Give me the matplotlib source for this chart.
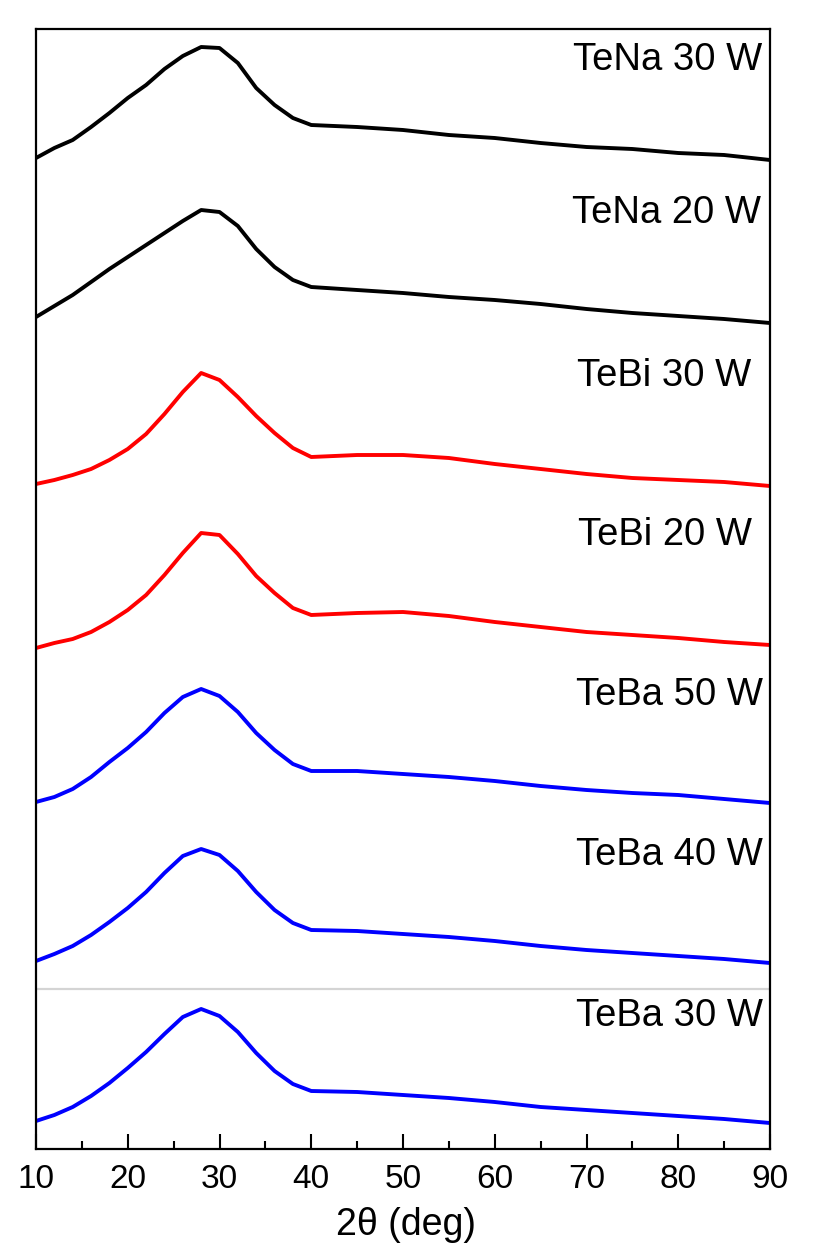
"""
Stacked XRD patterns of the Te-based films (TeNa, TeBi, TeBa) for several sputtering powers.
Curves are offset vertically, one per band, with the label at the upper right of each band.
"""

import numpy as np
from matplotlib import pyplot as plt
from matplotlib.ticker import MultipleLocator

# 2theta sample positions (deg)
two_theta = [10, 12, 14, 16, 18, 20, 22, 24, 26, 28, 30, 32, 34, 36, 38, 40,
             45, 50, 55, 60, 65, 70, 75, 80, 85, 90]

# Stacked intensities (a.u., offsets already included)
tena_30w = [991, 1001, 1009, 1022, 1036, 1051, 1064, 1080, 1093, 1102, 1101, 1086, 1061, 1044,
            1031, 1024, 1022, 1019, 1014, 1011, 1006, 1002, 1000, 996, 994, 989]
tena_20w = [832, 843, 854, 867, 880, 892, 904, 916, 928, 939, 937, 923, 900, 882,
            869, 862, 859, 856, 852, 849, 845, 840, 836, 833, 830, 826]
tebi_30w = [665, 669, 674, 680, 689, 700, 715, 735, 757, 776, 769, 752, 733, 716,
            701, 692, 694, 694, 691, 685, 680, 675, 671, 669, 667, 663]
tebi_20w = [501, 506, 510, 517, 527, 539, 554, 574, 596, 616, 614, 595, 573, 556,
            541, 534, 536, 537, 533, 527, 522, 517, 514, 511, 507, 504]
teba_50w = [347, 352, 360, 372, 387, 401, 417, 436, 452, 460, 453, 437, 416, 399,
            385, 378, 378, 375, 372, 368, 363, 359, 356, 354, 350, 346]
teba_40w = [188, 195, 203, 214, 227, 241, 257, 276, 293, 300, 294, 278, 257, 239,
            226, 219, 218, 215, 212, 208, 203, 199, 196, 193, 190, 186]
teba_30w = [28, 34, 42, 53, 66, 81, 97, 115, 132, 140, 133, 117, 96, 78,
            65, 58, 57, 54, 51, 47, 42, 39, 36, 33, 30, 26]

labels = ["TeNa 30 W", "TeNa 20 W", "TeBi 30 W", "TeBi 20 W", "TeBa 50 W", "TeBa 40 W", "TeBa 30 W"]
colors = ["black", "black", "red", "red", "blue", "blue", "blue"]
series = [tena_30w, tena_20w, tebi_30w, tebi_20w, teba_50w, teba_40w, teba_30w]

# label anchor (right edge x in deg, y in a.u.)
label_x = [89.2, 89.0, 88.0, 88.0, 89.2, 89.2, 89.2]
label_y = [1089, 936, 773, 614, 454, 294, 133]


def make_plot():
    plt.rcParams["font.family"] = ["Liberation Sans", "DejaVu Sans"]

    fig = plt.figure(figsize=(8.22, 12.49), dpi=100)
    ax = fig.add_axes([36 / 822, 1 - 1149 / 1249, 734 / 822, 1120 / 1249])

    x = np.array(two_theta)
    for y, c in zip(series, colors):
        ax.plot(x, y, color=c, lw=2.8, solid_joinstyle="round")

    for lab, lx, ly in zip(labels, label_x, label_y):
        ax.text(lx, ly, lab, ha="right", va="center", fontsize=27.5)

    # faint separator above the bottom pattern
    ax.axhline(160, color="#d4d4d4", lw=1.6)

    ax.set_xlim(10, 90)
    ax.set_ylim(0, 1120)
    ax.set_yticks([])
    ax.xaxis.set_major_locator(MultipleLocator(10))
    ax.xaxis.set_minor_locator(MultipleLocator(5))
    ax.tick_params(axis="x", which="major", direction="in", length=11, width=1.5,
                   labelsize=24, pad=11)
    ax.tick_params(axis="x", which="minor", direction="in", length=6, width=1.5)
    for sp in ax.spines.values():
        sp.set_linewidth(1.6)

    fig.text(406 / 822, 14 / 1249, "2θ (deg)", ha="center", va="baseline", fontsize=27)

    fig.savefig("out.png", dpi=100)


if __name__ == "__main__":
    make_plot()
